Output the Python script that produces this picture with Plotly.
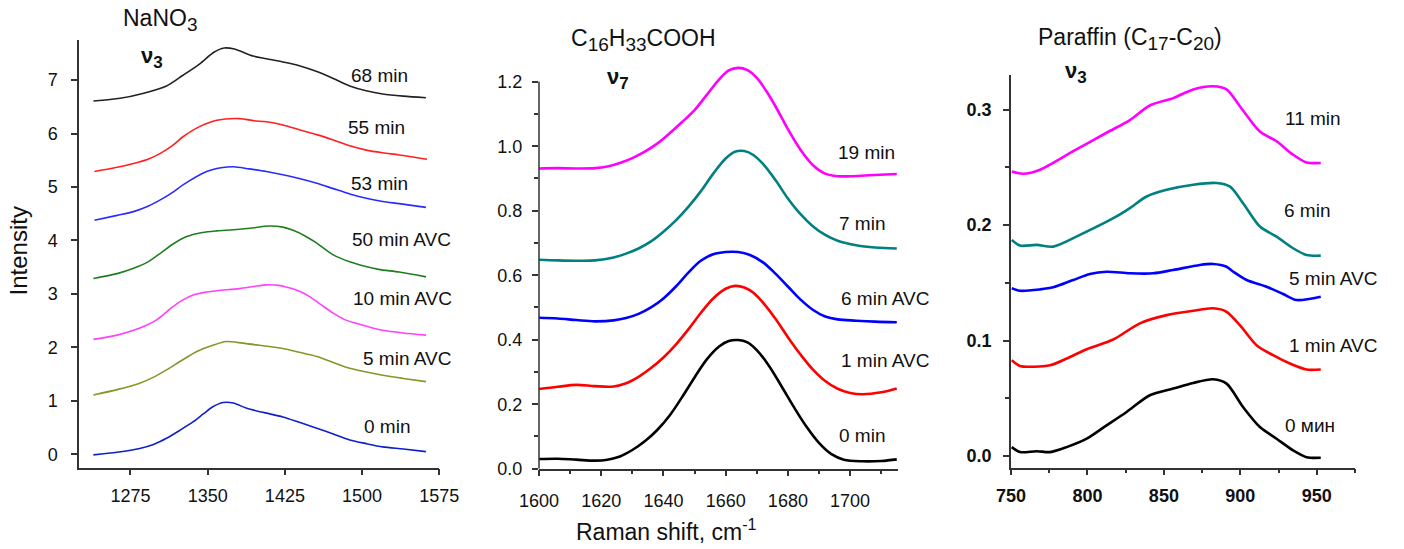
import plotly.graph_objects as go

# ---------------- Panel 1: NaNO3 nu3 ----------------
n68_x = [1239, 1265, 1287, 1310, 1326, 1342, 1356, 1366, 1376, 1394, 1407, 1423, 1439, 1456, 1472, 1488, 1504, 1520, 1540, 1562]
n68_y = [6.61, 6.66, 6.75, 6.89, 7.09, 7.30, 7.52, 7.60, 7.58, 7.45, 7.40, 7.34, 7.27, 7.16, 7.03, 6.89, 6.80, 6.74, 6.70, 6.67]

n55_x = [1240, 1262, 1278, 1292, 1304, 1316, 1326, 1342, 1359, 1381, 1395, 1407, 1423, 1439, 1456, 1472, 1488, 1504, 1520, 1536, 1563]
n55_y = [5.29, 5.37, 5.44, 5.52, 5.63, 5.78, 5.94, 6.13, 6.25, 6.28, 6.24, 6.22, 6.16, 6.07, 5.98, 5.88, 5.77, 5.69, 5.64, 5.60, 5.52]

n53_x = [1240, 1262, 1278, 1292, 1304, 1316, 1326, 1349, 1363, 1375, 1390, 1407, 1423, 1439, 1456, 1472, 1488, 1504, 1520, 1536, 1562]
n53_y = [4.38, 4.47, 4.54, 4.64, 4.76, 4.90, 5.04, 5.29, 5.36, 5.38, 5.34, 5.29, 5.23, 5.16, 5.07, 4.97, 4.87, 4.79, 4.73, 4.69, 4.62]

n50_x = [1239, 1262, 1278, 1292, 1304, 1316, 1329, 1345, 1359, 1375, 1391, 1410, 1423, 1433, 1445, 1456, 1472, 1488, 1498, 1516, 1536, 1562]
n50_y = [3.29, 3.38, 3.48, 3.60, 3.76, 3.93, 4.07, 4.15, 4.18, 4.20, 4.23, 4.27, 4.25, 4.19, 4.08, 3.95, 3.73, 3.60, 3.54, 3.46, 3.41, 3.32]

n10_x = [1239, 1262, 1278, 1290, 1300, 1308, 1316, 1326, 1336, 1347, 1359, 1381, 1395, 1407, 1419, 1426, 1438, 1449, 1460, 1472, 1483, 1494, 1507, 1520, 1540, 1562]
n10_y = [2.15, 2.23, 2.32, 2.41, 2.51, 2.63, 2.76, 2.89, 2.98, 3.03, 3.06, 3.10, 3.14, 3.17, 3.16, 3.13, 3.06, 2.95, 2.80, 2.64, 2.52, 2.45, 2.38, 2.32, 2.27, 2.23]

n5_x = [1239, 1262, 1284, 1297, 1310, 1325, 1339, 1355, 1368, 1384, 1400, 1423, 1439, 1456, 1472, 1488, 1504, 1520, 1540, 1562]
n5_y = [1.11, 1.21, 1.33, 1.44, 1.58, 1.76, 1.92, 2.04, 2.11, 2.08, 2.04, 1.98, 1.91, 1.83, 1.72, 1.61, 1.54, 1.48, 1.42, 1.36]

n0_x = [1239, 1262, 1284, 1298, 1310, 1323, 1336, 1346, 1355, 1365, 1375, 1388, 1405, 1423, 1439, 1456, 1472, 1488, 1504, 1520, 1540, 1562]
n0_y = [-0.01, 0.04, 0.11, 0.19, 0.30, 0.45, 0.61, 0.76, 0.89, 0.97, 0.96, 0.86, 0.78, 0.70, 0.60, 0.49, 0.38, 0.27, 0.20, 0.14, 0.10, 0.05]

p1_labels = ["68 min", "55 min", "53 min", "50 min AVC", "10 min AVC", "5 min AVC", "0 min"]
p1_label_x = [1517, 1514, 1517, 1538, 1539, 1544, 1524]
p1_label_y = [7.09, 6.12, 5.07, 4.01, 2.92, 1.80, 0.53]

# ---------------- Panel 2: C16H33COOH nu7 ----------------
c19_x = [1600, 1606, 1612, 1618, 1622, 1626, 1630, 1634, 1638, 1642, 1646, 1650, 1654, 1658, 1661, 1664, 1667, 1670, 1673, 1676, 1680, 1684, 1688, 1692, 1696, 1700, 1706, 1715]
c19_y = [0.931, 0.932, 0.931, 0.932, 0.937, 0.948, 0.963, 0.983, 1.008, 1.040, 1.075, 1.112, 1.160, 1.208, 1.235, 1.243, 1.236, 1.212, 1.172, 1.124, 1.053, 0.990, 0.942, 0.915, 0.907, 0.907, 0.910, 0.914]

c7_x = [1600, 1606, 1612, 1618, 1624, 1628, 1632, 1636, 1640, 1644, 1648, 1652, 1656, 1660, 1663, 1666, 1669, 1672, 1676, 1680, 1684, 1688, 1692, 1696, 1702, 1708, 1715]
c7_y = [0.648, 0.646, 0.645, 0.646, 0.655, 0.667, 0.683, 0.705, 0.735, 0.770, 0.812, 0.860, 0.915, 0.962, 0.983, 0.985, 0.972, 0.945, 0.895, 0.838, 0.790, 0.752, 0.725, 0.707, 0.693, 0.686, 0.683]

c6_x = [1600, 1606, 1612, 1618, 1624, 1628, 1632, 1636, 1640, 1644, 1648, 1652, 1656, 1660, 1664, 1668, 1672, 1676, 1680, 1684, 1688, 1692, 1696, 1702, 1708, 1715]
c6_y = [0.468, 0.466, 0.461, 0.457, 0.460, 0.467, 0.480, 0.500, 0.528, 0.565, 0.608, 0.645, 0.665, 0.672, 0.672, 0.662, 0.640, 0.605, 0.565, 0.525, 0.493, 0.472, 0.463, 0.459, 0.456, 0.454]

c1_x = [1600, 1606, 1612, 1618, 1624, 1628, 1632, 1636, 1640, 1644, 1648, 1652, 1656, 1660, 1663, 1666, 1669, 1672, 1676, 1680, 1684, 1688, 1692, 1696, 1700, 1704, 1710, 1715]
c1_y = [0.247, 0.254, 0.260, 0.256, 0.255, 0.265, 0.285, 0.312, 0.345, 0.385, 0.432, 0.483, 0.528, 0.558, 0.567, 0.562, 0.545, 0.515, 0.465, 0.408, 0.355, 0.308, 0.272, 0.248, 0.235, 0.231, 0.237, 0.249]

c0_x = [1600, 1606, 1612, 1618, 1622, 1626, 1630, 1634, 1638, 1642, 1646, 1650, 1654, 1658, 1661, 1664, 1667, 1670, 1674, 1678, 1682, 1686, 1690, 1694, 1698, 1704, 1710, 1715]
c0_y = [0.030, 0.031, 0.028, 0.025, 0.028, 0.038, 0.058, 0.085, 0.120, 0.165, 0.222, 0.283, 0.340, 0.380, 0.396, 0.399, 0.392, 0.368, 0.318, 0.255, 0.190, 0.130, 0.080, 0.045, 0.028, 0.023, 0.024, 0.029]

p2_labels = ["19 min", "7 min", "6 min AVC", "1 min AVC", "0 min"]
p2_label_x = [1705.4, 1703.8, 1711.3, 1711.3, 1703.8]
p2_label_y = [0.980, 0.759, 0.528, 0.337, 0.104]

# ---------------- Panel 3: Paraffin nu3 ----------------
p11_x = [750.5, 758, 769, 790.7, 812.5, 827.8, 840.8, 856.1, 869.2, 882.2, 891, 899.7, 912.8, 923.7, 934.5, 943.3, 952.6]
p11_y = [0.2465, 0.2445, 0.248, 0.264, 0.280, 0.291, 0.3036, 0.310, 0.3175, 0.3203, 0.3175, 0.303, 0.281, 0.2726, 0.261, 0.2543, 0.2538]

p6_x = [750.5, 755.9, 766.8, 777.6, 795.1, 816.9, 827.8, 838.7, 851.8, 869.2, 884.4, 893.1, 901.8, 912.8, 923.7, 934.5, 943.3, 952.6]
p6_y = [0.1872, 0.1823, 0.1829, 0.1814, 0.1916, 0.206, 0.2148, 0.2248, 0.2306, 0.235, 0.2365, 0.2335, 0.219, 0.1988, 0.190, 0.180, 0.1742, 0.1736]

p5_x = [750.5, 755.9, 769, 777.6, 790.7, 801.6, 812.5, 827.8, 843, 856.1, 873.5, 882.2, 891, 895.4, 904.1, 917.1, 928, 936.7, 952.6]
p5_y = [0.1453, 0.1432, 0.1444, 0.1462, 0.1525, 0.1577, 0.1597, 0.1583, 0.1583, 0.1612, 0.1655, 0.1664, 0.164, 0.1597, 0.1525, 0.1467, 0.1404, 0.1352, 0.138]

p1_x = [750.5, 755.9, 775.5, 786.4, 799.5, 816.9, 834.3, 851.8, 869.2, 882.2, 891, 899.7, 910.6, 921.4, 932.4, 943.3, 952.6]
p1_y = [0.0831, 0.0781, 0.0787, 0.0845, 0.0926, 0.101, 0.115, 0.1221, 0.1259, 0.128, 0.125, 0.1134, 0.0961, 0.0874, 0.0802, 0.075, 0.075]

p0_x = [750.5, 755.9, 766.8, 775.5, 786.4, 799.5, 812.5, 825.6, 840.8, 856.1, 869.2, 882.2, 891, 901.8, 912.8, 923.7, 934.5, 943.3, 952.6]
p0_y = [0.0078, 0.0035, 0.0043, 0.0035, 0.0078, 0.0151, 0.0266, 0.0382, 0.0527, 0.0585, 0.0634, 0.0666, 0.0628, 0.0425, 0.0252, 0.0151, 0.005, -0.0009, -0.0014]

p3_labels = ["11 min", "6 min", "5 min AVC", "1 min AVC", "0 мин"]
p3_label_x = [947.6, 943.3, 960.7, 960.7, 945.4]
p3_label_y = [0.292, 0.2127, 0.154, 0.0961, 0.0266]

FONT = "Liberation Sans, Arial, sans-serif"
AX = "#333333"
TICKSIZE = 18

fig = go.Figure()

panel1 = [(n68_x, n68_y, "#222222"), (n55_x, n55_y, "#ff2020"), (n53_x, n53_y, "#2a2aff"),
          (n50_x, n50_y, "#1f7f1f"), (n10_x, n10_y, "#ff40ff"), (n5_x, n5_y, "#869628"),
          (n0_x, n0_y, "#1020c8")]
for xs, ys, c in panel1:
    fig.add_trace(go.Scatter(x=xs, y=ys, mode="lines", line=dict(color=c, width=1.6, shape="spline", smoothing=0.8),
                             xaxis="x", yaxis="y", showlegend=False))

panel2 = [(c19_x, c19_y, "#ff00ff"), (c7_x, c7_y, "#008080"), (c6_x, c6_y, "#0000ff"),
          (c1_x, c1_y, "#ff0000"), (c0_x, c0_y, "#000000")]
for xs, ys, c in panel2:
    fig.add_trace(go.Scatter(x=xs, y=ys, mode="lines", line=dict(color=c, width=2.6, shape="spline", smoothing=1.0),
                             xaxis="x2", yaxis="y2", showlegend=False))

panel3 = [(p11_x, p11_y, "#ff00ff"), (p6_x, p6_y, "#008080"), (p5_x, p5_y, "#0000ff"),
          (p1_x, p1_y, "#ff0000"), (p0_x, p0_y, "#000000")]
for xs, ys, c in panel3:
    fig.add_trace(go.Scatter(x=xs, y=ys, mode="lines", line=dict(color=c, width=2.6, shape="spline", smoothing=0.8),
                             xaxis="x3", yaxis="y3", showlegend=False))

annotations = []
for refs, labels, lx, ly in (("1", p1_labels, p1_label_x, p1_label_y),
                             ("2", p2_labels, p2_label_x, p2_label_y),
                             ("3", p3_labels, p3_label_x, p3_label_y)):
    xr = "x" if refs == "1" else "x" + refs
    yr = "y" if refs == "1" else "y" + refs
    for t, x, y in zip(labels, lx, ly):
        annotations.append(dict(text=t, x=x, y=y, xref=xr, yref=yr, showarrow=False,
                                xanchor="center", yanchor="middle",
                                font=dict(family=FONT, size=19, color="#111")))

W, H = 1404, 549
def px(xp):
    return xp / W
def py(yp):
    return (H - yp) / H

def sub(s, size):
    return '<sub><span style="font-size:%dpx">%s</span></sub>' % (size, s)

titles = [
    ("NaNO" + sub("3", 19), 160, 20, 23, False),
    ("ν" + sub("3", 17), 152, 57, 22, True),
    ("C" + sub("16", 19) + "H" + sub("33", 19) + "COOH", 643, 40, 23, False),
    ("ν" + sub("7", 17), 618, 78, 22, True),
    ("Paraffin (C" + sub("17", 19) + "-C" + sub("20", 19) + ")", 1130, 39, 23, False),
    ("ν" + sub("3", 17), 1076, 72, 22, True),
]
for t, xp, yp, size, bold in titles:
    annotations.append(dict(text=("<b>%s</b>" % t) if bold else t, x=px(xp), y=py(yp), xref="paper", yref="paper",
                            showarrow=False, xanchor="center", yanchor="middle",
                            font=dict(family=FONT, size=size, color="#111")))

annotations.append(dict(text="Intensity", x=px(17.5), y=py(251), xref="paper", yref="paper", textangle=-90,
                        xanchor="center", yanchor="middle",
                        showarrow=False, font=dict(family=FONT, size=24, color="#111")))
annotations.append(dict(text="Raman shift, cm<sup>-1</sup>", x=px(666), y=py(530), xref="paper", yref="paper",
                        xanchor="center", yanchor="middle",
                        showarrow=False, font=dict(family=FONT, size=23, color="#111")))

def axis_common(**kw):
    d = dict(showgrid=False, zeroline=False, showline=True, linecolor=AX, linewidth=1.5,
             ticks="outside", ticklen=6, tickwidth=1.5, tickcolor=AX, automargin=False,
             tickfont=dict(family=FONT, size=TICKSIZE, color="#111"))
    d.update(kw)
    return d

BOLDTICK = dict(family=FONT, size=TICKSIZE, color="#111", weight="bold")

fig.update_layout(
    width=W, height=H, margin=dict(l=0, r=0, t=0, b=0, pad=0, autoexpand=False), autosize=False,
    plot_bgcolor="white", paper_bgcolor="white",
    xaxis=axis_common(domain=[px(79), px(439.3)], range=[1225, 1575], tickvals=[1275, 1350, 1425, 1500, 1575],
                      anchor="y", ticklabelstandoff=5),
    yaxis=axis_common(domain=[py(467.7), py(40)], range=[-0.25, 7.75], tickvals=[0, 1, 2, 3, 4, 5, 6, 7],
                      anchor="x", ticklabelstandoff=10),
    xaxis2=axis_common(domain=[px(539), px(897.7)], range=[1600, 1715.3], tickvals=[1600, 1620, 1640, 1660, 1680, 1700],
                       minor=dict(ticks="outside", ticklen=4, tickcolor=AX, tickvals=[1610, 1630, 1650, 1670, 1690, 1710]),
                       anchor="y2", ticklabelstandoff=9),
    yaxis2=axis_common(domain=[py(468.7), py(62.4)], range=[0, 1.26], tickvals=[0, 0.2, 0.4, 0.6, 0.8, 1.0, 1.2],
                       tickformat=".1f", showline=False,
                       minor=dict(ticks="outside", ticklen=4, tickcolor=AX, tickvals=[0.1, 0.3, 0.5, 0.7, 0.9, 1.1]),
                       anchor="x2", ticklabelstandoff=6),
    xaxis3=axis_common(domain=[px(1011), px(1355)], range=[750, 975], tickvals=[750, 800, 850, 900, 950],
                       tickfont=BOLDTICK,
                       minor=dict(ticks="outside", ticklen=4, tickcolor=AX, tickvals=[775, 825, 875, 925, 975]),
                       anchor="y3", ticklabelstandoff=5),
    yaxis3=axis_common(domain=[py(467.7), py(75)], range=[-0.01, 0.33], tickvals=[0.0, 0.1, 0.2, 0.3],
                       tickformat=".1f", tickfont=BOLDTICK,
                       minor=dict(ticks="outside", ticklen=4, tickcolor=AX, tickvals=[0.05, 0.15, 0.25]),
                       anchor="x3", ticklabelstandoff=8),
    annotations=annotations,
    shapes=[dict(type="line", xref="x2 domain", yref="y2", x0=0, x1=0, y0=0, y1=1.2,
                 line=dict(color=AX, width=1.5))],
)

fig.write_html("out.html")
